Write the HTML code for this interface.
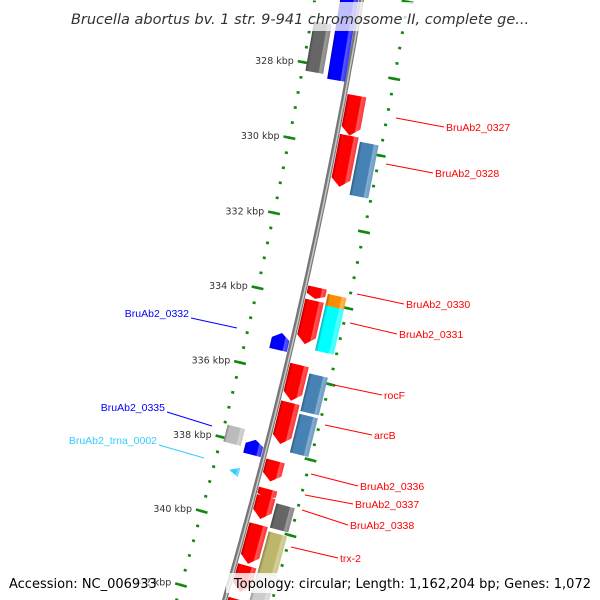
<!DOCTYPE html>
<html><head><meta charset="utf-8"><style>
html,body{margin:0;padding:0;background:#fff;width:600px;height:600px;overflow:hidden}
svg{display:block}
text{font-family:"Liberation Sans","DejaVu Sans",sans-serif}
</style></head><body>
<svg id="map" width="600" height="600" viewBox="0 0 600 600" xmlns="http://www.w3.org/2000/svg" style="overflow:hidden">
<defs id="defs"></defs>
<g id="ticks"></g>
<path id="backbone" fill="none" stroke="#777" stroke-width="5"/>
<path id="backbone2" fill="none" stroke="#c8c8c8" stroke-width="1.5"/>
<g id="features"></g>
<g id="labels"></g>
<rect x="78" y="2" width="444" height="29" fill="#fff" opacity="0.75"/>
<text x="300" y="24" text-anchor="middle" font-size="14.5" font-style="italic" fill="#333" style="font-family:'DejaVu Sans','Liberation Sans',sans-serif">Brucella abortus bv. 1 str. 9-941 chromosome II, complete ge...</text>
<rect x="4" y="573" width="144" height="20" fill="#fff" opacity="0.8"/>
<text x="9" y="588" font-size="13" fill="#000" style="font-family:'DejaVu Sans','Liberation Sans',sans-serif">Accession: NC_006933</text>
<rect x="226" y="573" width="370" height="20" fill="#fff" opacity="0.8"/>
<text x="591" y="588" text-anchor="end" font-size="13" fill="#000" style="font-family:'DejaVu Sans','Liberation Sans',sans-serif">Topology: circular; Length: 1,162,204 bp; Genes: 1,072</text>
</svg>
<script>
// ---- data ----
var majorTicks = [326, 328, 330, 332, 334, 336, 338, 340, 342];
var tickLabels = ["326 kbp","328 kbp","330 kbp","332 kbp","334 kbp","336 kbp","338 kbp","340 kbp","342 kbp"];
var featStart = [325.5, 335.0, 337.85, 326.9, 337.65, 338.65,
  328.6, 329.65, 333.65, 334.0, 335.7, 336.7, 338.25, 339.0, 339.2, 339.95, 341.05, 341.95,
  329.75, 333.75, 334.05, 335.85, 336.92, 339.3, 340.05, 341.15, 342.05];
var featEnd = [328.3, 335.45, 338.25, 328.2, 338.1, 338.9,
  329.65, 331.0, 333.95, 335.15, 336.65, 337.8, 338.8, 339.25, 339.8, 341.0, 341.75, 342.5,
  331.15, 334.1, 335.25, 336.85, 337.95, 339.95, 341.15, 341.95, 343.0];
var featTrack = ["Li","Li","Li","Lo","Lo","T",
  "Ri","Ri","Ri","Ri","Ri","Ri","Ri","Ri","Ri","Ri","Ri","Ri",
  "Ro","Ro","Ro","Ro","Ro","Ro","Ro","Ro","Ro"];
var featColor = ["#0000ff","#0000ff","#0000ff","#666666","#bbbbbb","#33ccff",
  "#ff0000","#ff0000","#ff0000","#ff0000","#ff0000","#ff0000","#ff0000","#ff0000","#ff0000","#ff0000","#ff0000","#ff0000",
  "#4682b4","#ff8c00","#00ffff","#4682b4","#4682b4","#666666","#bdb76b","#cccccc","#666666"];
var featShape = ["rect","up","up","rect","rect","tri",
  "down","down","down","down","down","down","down","down","down","down","down","down",
  "rect","rect","rect","rect","rect","rect","rect","rect","rect"];
var labelNames = ["BruAb2_0327","BruAb2_0328","BruAb2_0330","BruAb2_0331","rocF","arcB","BruAb2_0336","BruAb2_0337","BruAb2_0338","trx-2","BruAb2_0332","BruAb2_0335","BruAb2_trna_0002"];
var labelColor = ["#f00","#f00","#f00","#f00","#f00","#f00","#f00","#f00","#f00","#f00","#00f","#00f","#33ccff"];
var labelLine = [[396,118,444,127],[386,164,433,173],[357,294,404,304],[350,323,397,334],[334,385,382,395],[325,425,372,435],[311,474,358,486],[305,495,353,504],[302,510,348,525],[291,547,338,558],[191,318,237,328],[167,412,212,426],[159,445,204,458]];
var labelSide = ["r","r","r","r","r","r","r","r","r","r","l","l","l"];

// ---- geometry ----
var R = 5380, PHI0 = 12.8*Math.PI/180, K0 = 334, DPHI = 38.7/R;
var CX = 302.4 - R*Math.cos(PHI0), CY = 298 - R*Math.sin(PHI0);
function phi(k){ return PHI0 + (k-K0)*DPHI; }
function pt(k, r){ var a=phi(k); return [CX+(R+r)*Math.cos(a), CY+(R+r)*Math.sin(a)]; }
var NS="http://www.w3.org/2000/svg";
function mk(tag, attrs, parent){ var e=document.createElementNS(NS,tag); for(var a in attrs) e.setAttribute(a, attrs[a]); parent.appendChild(e); return e; }

var d=""; for (var k=324;k<=345;k+=0.25){ var p=pt(k,0); d+=(d?"L":"M")+p[0].toFixed(1)+","+p[1].toFixed(1); }
document.getElementById("backbone").setAttribute("d", d);
var d2=""; for (var k2=324;k2<=345;k2+=0.25){ var p2=pt(k2,0.6); d2+=(d2?"L":"M")+p2[0].toFixed(1)+","+p2[1].toFixed(1); }
document.getElementById("backbone2").setAttribute("d", d2);

var tg=document.getElementById("ticks");
var green="#118811";
for (var i=0;i<=50;i++){
  var km=324+i*0.4;
  [-46,46].forEach(function(rr){
    var a=pt(km,rr-1.5), b=pt(km,rr+1.5);
    var l=mk("line",{x1:a[0],y1:a[1],x2:b[0],y2:b[1],stroke:green,"stroke-width":2.6},tg);
    
    
  });
}
majorTicks.forEach(function(km,j){
  [-46,46].forEach(function(rr){
    var a=pt(km,rr-6), b=pt(km,rr+6);
    var l=mk("line",{x1:a[0],y1:a[1],x2:b[0],y2:b[1],stroke:green,"stroke-width":2.6},tg);
    
    
  });
  var q=pt(km,-56);
  var t=mk("text",{x:q[0],y:q[1]+3.5,"text-anchor":"end","font-size":"9.5",fill:"#333",style:"font-family:'DejaVu Sans',sans-serif"},tg);
  
  
  t.textContent=tickLabels[j];
});

var defs=document.getElementById("defs");
function shade(hex,f){ var n=parseInt(hex.slice(1),16); var r=(n>>16)&255,g=(n>>8)&255,b=n&255;
  function c(v){ return Math.round(f>0? v+(255-v)*f : v*(1+f)); }
  return "rgb("+c(r)+","+c(g)+","+c(b)+")"; }
var fg=document.getElementById("features");
var trackR={Li:[-21,-3],Lo:[-43,-25],Ri:[3,22],Ro:[24,43],T:[-30,-20]};
featStart.forEach(function(s,i){
  var e=featEnd[i], col=featColor[i], tr=trackR[featTrack[i]], r1=tr[0], r2=tr[1], rm=(r1+r2)/2;
  var L=(e-s)*38.7, h=Math.min(8,L*0.35);
  var gid="g"+i;
  var gr=mk("linearGradient",{id:gid,x1:"0",y1:"0",x2:"1",y2:"0"},defs);
  mk("stop",{offset:"0",  "stop-color":shade(col,-0.3)},gr);
  mk("stop",{offset:"0.15","stop-color":col},gr);
  mk("stop",{offset:"0.72","stop-color":col},gr);
  mk("stop",{offset:"0.78","stop-color":shade(col,0.35)},gr);
  mk("stop",{offset:"1",  "stop-color":shade(col,0.2)},gr);
  var p=pt(s,0), ang=phi(s)*180/Math.PI;
  var pts;
  if(featShape[i]=="down") pts=[[r1,0],[r2,0],[r2,L-h],[rm,L],[r1,L-h]];
  else if(featShape[i]=="up") pts=[[rm,0],[r2,h],[r2,L],[r1,L],[r1,h]];
  else if(featShape[i]=="tri") pts=[[r1,L/2],[r2,0],[r2,L]];
  else pts=[[r1,0],[r2,0],[r2,L],[r1,L]];
  var poly=mk("polygon",{points:pts.map(function(q){return q[0].toFixed(1)+","+q[1].toFixed(1);}).join(" "),
    fill:"url(#"+gid+")",transform:"translate("+p[0].toFixed(1)+","+p[1].toFixed(1)+") rotate("+ang.toFixed(2)+")"},fg);
  
  
});

var lg=document.getElementById("labels");
labelNames.forEach(function(n,i){
  var ln=labelLine[i];
  var l=mk("line",{x1:ln[0],y1:ln[1],x2:ln[2],y2:ln[3],stroke:labelColor[i],"stroke-width":1},lg);
  
  
  var t;
  if(labelSide[i]=="r") t=mk("text",{x:ln[2]+2,y:ln[3]+4,"font-size":"10.5",fill:labelColor[i]},lg);
  else t=mk("text",{x:ln[0]-2,y:ln[1]-1,"text-anchor":"end","font-size":"10.5",fill:labelColor[i]},lg);
  
  
  t.textContent=n;
});
</script>
</body></html>
